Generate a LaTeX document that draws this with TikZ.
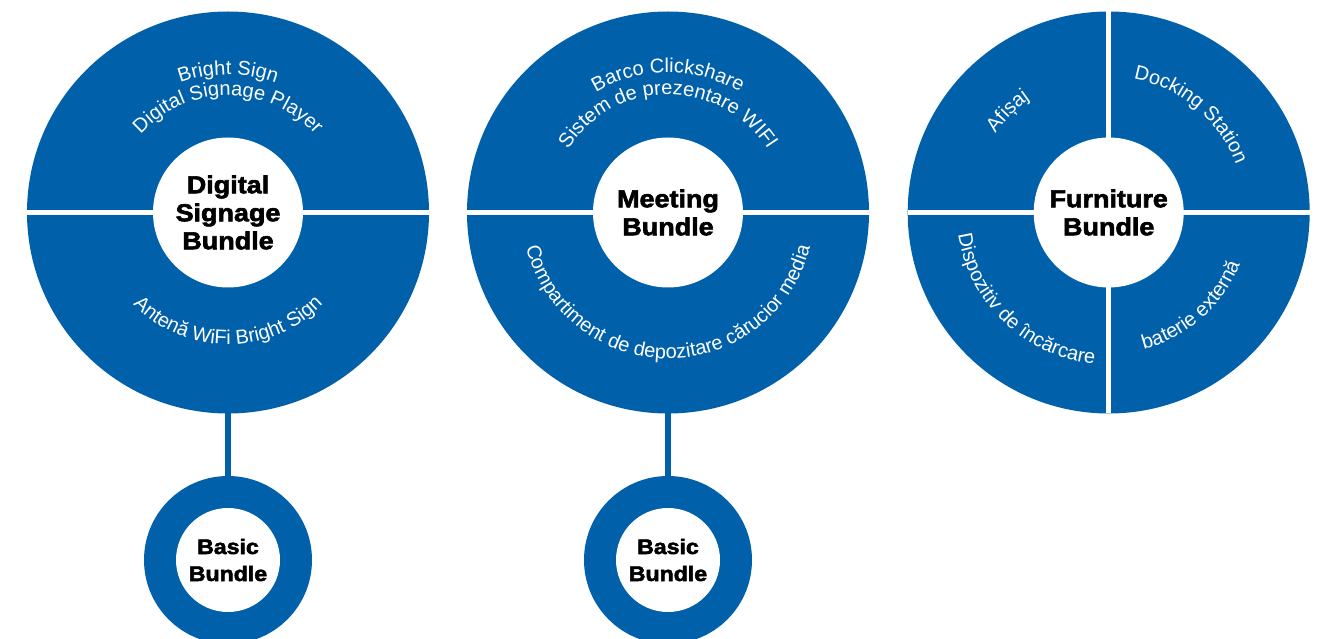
\documentclass[tikz,border=0pt]{standalone}
\usepackage{fontspec}
\setmainfont{Liberation Sans}
\newfontfamily\hubfont[BoldFeatures={FakeBold=2.5,FakeStretch=1.1}]{Liberation Sans}
\usepackage{xcolor}
\usetikzlibrary{decorations.text}

\definecolor{bundleblue}{HTML}{0060AA}
\newcommand{\arcfont}{\fontsize{20}{20}\selectfont}

\begin{document}
\begin{tikzpicture}[x=1pt, y=1pt,
    ring/.style={circle, fill=bundleblue, inner sep=0pt, outer sep=0pt, minimum size=402pt},
    hub/.style={circle, fill=white, inner sep=0pt, minimum size=150pt, align=center, font=\hubfont\bfseries\fontsize{24.5}{28}\selectfont},
    basicring/.style={circle, fill=bundleblue, inner sep=0pt, outer sep=0pt, minimum size=168pt},
    basichub/.style={circle, fill=white, inner sep=0pt, minimum size=104pt, align=center, font=\hubfont\bfseries\fontsize{21}{27}\selectfont},
    divider/.style={white, line width=5pt},
    link/.style={bundleblue, line width=6pt},
    arctext/.style={decorate, decoration={text along path, text align=center, text color=white, text={|\arcfont|#1}}}
]

\clip (0,0) rectangle (1326,638);

% Bundle rings
\node[ring] (digital) at (228,425.5) {};
\node[ring] (meeting) at (668,425.5) {};
\node[ring] (furniture) at (1108.7,425.5) {};

% Dividers
\draw[divider] (digital.west) -- (digital.east);
\draw[divider] (meeting.west) -- (meeting.east);
\draw[divider] (furniture.west) -- (furniture.east);
\draw[divider] (furniture.north) -- (furniture.south);

% Basic bundles below
\node[basicring] (digitalbasic) at (228,78) {};
\node[basicring] (meetingbasic) at (668,78) {};
\draw[link] (digital.south) -- (digitalbasic.north);
\draw[link] (meeting.south) -- (meetingbasic.north);

% Centre labels
\node[hub] (digitalhub) at (digital.center) {Digital\\Signage\\Bundle};
\node[hub] (meetinghub) at (meeting.center) {Meeting\\Bundle};
\node[hub] (furniturehub) at (furniture.center) {Furniture\\Bundle};
\node[basichub] (digitalbasichub) at (digitalbasic.center) {Basic\\Bundle};
\node[basichub] (meetingbasichub) at (meetingbasic.center) {Basic\\Bundle};

% Curved item texts
\begin{scope}[shift={(digital.center)}]
\path[arctext={Bright Sign}] (180:138) arc[start angle=180, end angle=0, radius=138];
\path[arctext={Digital Signage Player}] (180:117) arc[start angle=180, end angle=0, radius=117];
\path[arctext={Antenă WiFi Bright Sign}] (180:132) arc[start angle=180, end angle=360, radius=132];
\end{scope}

\begin{scope}[shift={(meeting.center)}]
\path[arctext={Barco Clickshare}] (180:140) arc[start angle=180, end angle=0, radius=140];
\path[arctext={Sistem de prezentare WIFI}] (180:118) arc[start angle=180, end angle=0, radius=118];
\path[arctext={Compartiment de depozitare cărucior media}] (180:146) arc[start angle=180, end angle=360, radius=146];
\end{scope}

\begin{scope}[shift={(furniture.center)}]
\path[arctext={Afișaj}] (225:138) arc[start angle=225, end angle=45, radius=138];
\path[arctext={Docking Station}] (140:136) arc[start angle=140, end angle=-40, radius=136];
\path[arctext={Dispozitiv de încărcare}] (136.5:152) arc[start angle=136.5, end angle=316.5, radius=152];
\path[arctext={baterie externă}] (221.5:141) arc[start angle=221.5, end angle=401.5, radius=141];
\end{scope}

\end{tikzpicture}
\end{document}
